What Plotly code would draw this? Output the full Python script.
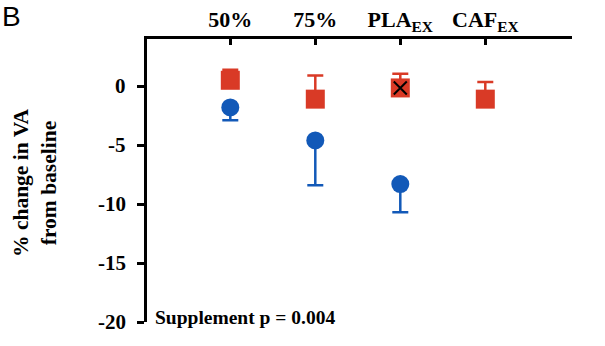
import plotly.graph_objects as go

# Conditions along the top axis
categories = ["50%", "75%", "PLA<sub>EX</sub>", "CAF<sub>EX</sub>"]
cat_pos = [0, 1, 2, 3]

# Y-axis ticks
y_ticks = [0, -5, -10, -15, -20]
y_tick_labels = ["0", "-5", "-10", "-15", "-20"]

# Red series (square markers) with upward error
red_vals = [0.5, -1.1, -0.15, -1.1]
red_err = [0.9, 2.0, 1.2, 1.45]

# Blue series (circle markers) with downward error, three conditions only
blue_pos = [0, 1, 2]
blue_vals = [-1.8, -4.6, -8.3]
blue_err = [1.1, 3.8, 2.4]

# Condition marked with an X
x_marked_pos = [2]
x_marked_vals = [-0.15]

RED = "#D93A26"
BLUE = "#1259B8"
SERIF = "Liberation Serif, Times New Roman, serif"

fig = go.Figure()

fig.add_trace(go.Scatter(
    x=blue_pos, y=blue_vals, mode="markers",
    marker=dict(symbol="circle", size=18, color=BLUE),
    error_y=dict(type="data", array=[0] * len(blue_err), arrayminus=blue_err,
                 symmetric=False, color=BLUE, thickness=2.5, width=8),
    showlegend=False, cliponaxis=False,
))

fig.add_trace(go.Scatter(
    x=cat_pos, y=red_vals, mode="markers",
    marker=dict(symbol="square", size=19, color=RED),
    error_y=dict(type="data", array=red_err, arrayminus=[0] * len(red_err),
                 symmetric=False, color=RED, thickness=2.5, width=8),
    showlegend=False, cliponaxis=False,
))

fig.add_trace(go.Scatter(
    x=x_marked_pos, y=x_marked_vals, mode="markers",
    marker=dict(symbol="x-thin", size=13, line=dict(color="black", width=2)),
    showlegend=False, cliponaxis=False,
))

fig.update_xaxes(
    range=[-0.98, 4.02], side="top", automargin=False,
    tickmode="array", tickvals=cat_pos, ticktext=categories,
    showline=True, linecolor="black", linewidth=3,
    ticks="inside", ticklen=6, tickwidth=3, tickcolor="black",
    showgrid=False, zeroline=False,
    tickfont=dict(family=SERIF, size=22, color="black", weight="bold"),
)

fig.update_yaxes(
    range=[-20, 4], tickmode="array", tickvals=y_ticks,
    showticklabels=False, automargin=False,
    showline=True, linecolor="black", linewidth=3,
    ticks="outside", ticklen=7, tickwidth=3, tickcolor="black",
    showgrid=False, zeroline=False,
)

# Y tick labels, right-aligned a fixed gap left of the axis
for val, lab in zip(y_ticks, y_tick_labels):
    fig.add_annotation(
        text=lab, xref="paper", yref="y", x=-0.044, y=val,
        xanchor="right", yanchor="middle", align="right", showarrow=False,
        font=dict(family=SERIF, size=21, color="black", weight="bold"),
    )

fig.add_annotation(
    text="% change in VA<br>from baseline", textangle=-90,
    xref="paper", yref="paper", x=-0.262, y=0.49,
    xanchor="center", yanchor="middle", showarrow=False,
    font=dict(family=SERIF, size=21.5, color="black", weight="bold"),
)

fig.add_annotation(
    text="Supplement p = 0.004",
    xref="paper", yref="y", x=0.014, y=-19.6,
    xanchor="left", yanchor="middle", showarrow=False,
    font=dict(family=SERIF, size=19.5, color="black", weight="bold"),
)

fig.add_annotation(
    text="B", xref="paper", yref="paper", x=-0.345, y=1.078,
    xanchor="left", yanchor="middle", showarrow=False,
    font=dict(family="Liberation Sans, Arial, sans-serif", size=28, color="black"),
)

fig.update_layout(
    width=605, height=346,
    margin=dict(l=147, r=33, t=39, b=24),
    paper_bgcolor="white", plot_bgcolor="white",
)

fig.write_html("out.html")
